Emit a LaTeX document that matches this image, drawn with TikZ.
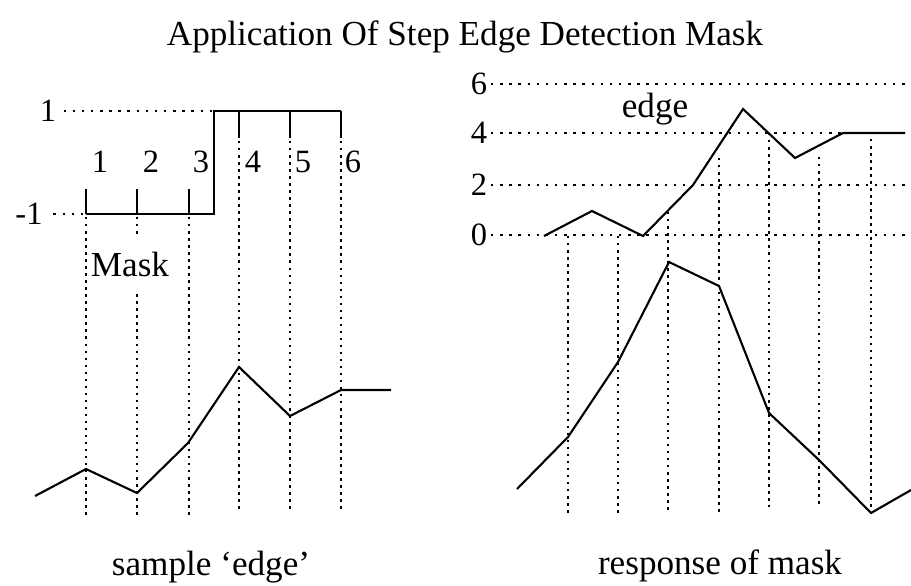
\documentclass[tikz,border=0pt]{standalone}
\usepackage{fontspec}
\setmainfont{Liberation Serif}
\tikzset{
  signal/.style={line width=1.2pt, line join=miter},
  hdots/.style={line width=1.4pt, dash pattern=on 1.4pt off 3.8pt},
  vdots/.style={line width=1.4pt, dash pattern=on 1.4pt off 2.6pt},
  lbl/.style={font=\fontsize{18.5}{22}\selectfont, inner sep=0pt},
  word/.style={font=\fontsize{20}{24}\selectfont, inner sep=0pt},
}
\begin{document}
\begin{tikzpicture}[x=0.02cm,y=-0.02cm]
    \useasboundingbox (0,0) rectangle (911,585);
    \node[word, anchor=base] (title) at (465,45) {Application Of Step Edge Detection Mask};

    %% step mask, left
    \coordinate (low) at (86,214);
    \coordinate (top) at (214,111);
    \draw[signal] (low) -- (214,214) -- (top) -- (341,111);
    \foreach \x in {86,137,189} \draw[signal] (\x,189) -- (\x,214);
    \foreach \x in {239,290,341} \draw[signal] (\x,111) -- (\x,138);
    \foreach \x/\i in {100/1,151/2,201/3,253/4,303/5,353/6}
        \node[lbl] (pos\i) at (\x,162) {\i};
    \node[lbl] (hi) at (48,111) {1};
    \node[lbl] (lo) at (29,214) {-1};
    \draw[hdots] ([xshift=4pt]hi.east) -- (top);
    \draw[hdots] ([xshift=6pt]lo.east) -- (low);

    %% sample points
    \foreach \x in {86,137,189} \draw[vdots] (\x,217) -- (\x,517);
    \foreach \x in {239,290,341} \draw[vdots] (\x,141) -- (\x,510);
    \node[word, fill=white, minimum height=1.04cm] (mask) at (130,264) {Mask};

    %% sample edge
    \draw[signal] (35,496) -- (86,469) -- (137,493) -- (188,443) -- (239,367)
        -- (290,416) -- (341,390) -- (391,390);
    \node[word, anchor=base] (sample) at (211,575) {sample ‘edge’};

    %% axis levels, right
    \foreach \v/\y in {0/235,2/185,4/133,6/84} {
        \node[lbl] (lv\v) at (479,\y) {\v};
        \draw[hdots] ([xshift=2pt]lv\v.east) -- (911,\y);
    }
    \node[word, anchor=base] (edge) at (655,117) {edge};
    \draw[signal] (544,236) -- (592,211) -- (643,236) -- (693,185) -- (743,109)
        -- (795,158) -- (843,133) -- (905,133);

    %% mask positions
    \foreach \x/\a/\b in {568/236/515,618/236/515,668/212/512,719/158/512,
                          769/133/507,819/157/507,871/132/510}
        \draw[vdots] (\x,\a) -- (\x,\b);

    %% response
    \draw[signal] (517,489) -- (568,437) -- (618,362) -- (669,262) -- (719,286)
        -- (769,413) -- (819,460) -- (871,513) -- (911,490);
    \node[word, anchor=base] (response) at (720,574) {response of mask};
\end{tikzpicture}
\end{document}
